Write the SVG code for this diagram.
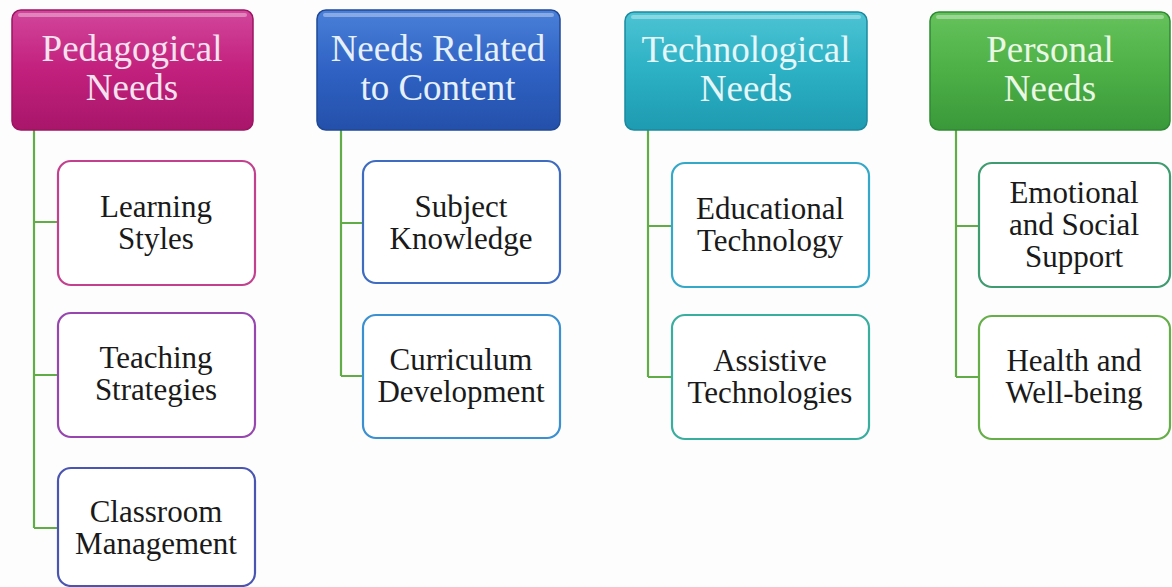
<svg xmlns="http://www.w3.org/2000/svg" width="1172" height="587" viewBox="0 0 1172 587">
  <style>
    .hdr-text { font-family: "Liberation Serif", "Times New Roman", serif; font-size: 37px; text-anchor: middle; }
    .child-text { font-family: "Liberation Serif", "Times New Roman", serif; font-size: 31px; fill: #1a1a1a; text-anchor: middle; }
    .child { fill: #ffffff; stroke-width: 2.2; }
    .hdr { stroke-width: 1.5; }
    .hl { fill: #ffffff; opacity: 0.35; }
    .conn { fill: none; stroke: #62ac48; stroke-width: 2.2; }
  </style>
  <defs>
    <linearGradient id="gPink" x1="0" y1="0" x2="0" y2="1">
      <stop offset="0" stop-color="#d2469c"/>
      <stop offset="0.5" stop-color="#c2207c"/>
      <stop offset="1" stop-color="#a8166a"/>
    </linearGradient>
    <linearGradient id="gBlue" x1="0" y1="0" x2="0" y2="1">
      <stop offset="0" stop-color="#4a80d8"/>
      <stop offset="0.5" stop-color="#2f62c4"/>
      <stop offset="1" stop-color="#2450aa"/>
    </linearGradient>
    <linearGradient id="gTeal" x1="0" y1="0" x2="0" y2="1">
      <stop offset="0" stop-color="#4cc4d4"/>
      <stop offset="0.5" stop-color="#2cb0c4"/>
      <stop offset="1" stop-color="#1e9bb0"/>
    </linearGradient>
    <linearGradient id="gGreen" x1="0" y1="0" x2="0" y2="1">
      <stop offset="0" stop-color="#66c25c"/>
      <stop offset="0.5" stop-color="#4cb046"/>
      <stop offset="1" stop-color="#3a983a"/>
    </linearGradient>
  </defs>
  <rect width="1172" height="587" fill="#fdfdfd"/>

  <g id="connectors">
    <path class="conn" d="M34,130 V528 M34,222 H58 M34,375 H58 M34,528 H58"/>
    <path class="conn" d="M341,130 V376 M341,223 H363 M341,376 H363"/>
    <path class="conn" d="M648,130 V377 M648,226 H672 M648,377 H672"/>
    <path class="conn" d="M956,130 V377 M956,226 H979 M956,377 H979"/>
  </g>

  <g id="pedagogical-needs">
    <rect class="hdr" x="12" y="10" width="241" height="120" rx="9" fill="url(#gPink)" stroke="#9c1462"/>
    <rect class="hl" x="18" y="13" width="229" height="4" rx="2"/>
    <text class="hdr-text" fill="#f6e2ef" x="132" y="61">Pedagogical</text>
    <text class="hdr-text" fill="#f6e2ef" x="132" y="100">Needs</text>
  </g>
  <g id="learning-styles">
    <rect class="child" x="58" y="161" width="197" height="124" rx="13" stroke="#c2408e"/>
    <text class="child-text" x="156" y="217">Learning</text>
    <text class="child-text" x="156" y="249">Styles</text>
  </g>
  <g id="teaching-strategies">
    <rect class="child" x="58" y="313" width="197" height="124" rx="13" stroke="#9646ae"/>
    <text class="child-text" x="156" y="368">Teaching</text>
    <text class="child-text" x="156" y="400">Strategies</text>
  </g>
  <g id="classroom-management">
    <rect class="child" x="58" y="468" width="197" height="118" rx="13" stroke="#4a55b2"/>
    <text class="child-text" x="156" y="522">Classroom</text>
    <text class="child-text" x="156" y="554">Management</text>
  </g>

  <g id="needs-related-to-content">
    <rect class="hdr" x="317" y="10" width="243" height="120" rx="9" fill="url(#gBlue)" stroke="#1f4896"/>
    <rect class="hl" x="323" y="13" width="231" height="4" rx="2"/>
    <text class="hdr-text" fill="#e6f0fb" x="438" y="61">Needs Related</text>
    <text class="hdr-text" fill="#e6f0fb" x="438" y="100">to Content</text>
  </g>
  <g id="subject-knowledge">
    <rect class="child" x="363" y="161" width="197" height="122" rx="13" stroke="#3f6cc0"/>
    <text class="child-text" x="461" y="217">Subject</text>
    <text class="child-text" x="461" y="249">Knowledge</text>
  </g>
  <g id="curriculum-development">
    <rect class="child" x="363" y="315" width="197" height="123" rx="13" stroke="#3a90d0"/>
    <text class="child-text" x="461" y="370">Curriculum</text>
    <text class="child-text" x="461" y="402">Development</text>
  </g>

  <g id="technological-needs">
    <rect class="hdr" x="625" y="12" width="242" height="118" rx="9" fill="url(#gTeal)" stroke="#1a8aa0"/>
    <rect class="hl" x="631" y="15" width="230" height="4" rx="2"/>
    <text class="hdr-text" fill="#e4f6f8" x="746" y="62">Technological</text>
    <text class="hdr-text" fill="#e4f6f8" x="746" y="101">Needs</text>
  </g>
  <g id="educational-technology">
    <rect class="child" x="672" y="163" width="197" height="124" rx="13" stroke="#34a8c8"/>
    <text class="child-text" x="770" y="219">Educational</text>
    <text class="child-text" x="770" y="251">Technology</text>
  </g>
  <g id="assistive-technologies">
    <rect class="child" x="672" y="315" width="197" height="124" rx="13" stroke="#3aae9e"/>
    <text class="child-text" x="770" y="371">Assistive</text>
    <text class="child-text" x="770" y="403">Technologies</text>
  </g>

  <g id="personal-needs">
    <rect class="hdr" x="930" y="12" width="240" height="118" rx="9" fill="url(#gGreen)" stroke="#2e8a32"/>
    <rect class="hl" x="936" y="15" width="228" height="4" rx="2"/>
    <text class="hdr-text" fill="#eaf7e4" x="1050" y="62">Personal</text>
    <text class="hdr-text" fill="#eaf7e4" x="1050" y="101">Needs</text>
  </g>
  <g id="emotional-and-social-support">
    <rect class="child" x="979" y="163" width="191" height="124" rx="13" stroke="#3e9c70"/>
    <text class="child-text" x="1074" y="203">Emotional</text>
    <text class="child-text" x="1074" y="235">and Social</text>
    <text class="child-text" x="1074" y="267">Support</text>
  </g>
  <g id="health-and-well-being">
    <rect class="child" x="979" y="316" width="191" height="123" rx="13" stroke="#66ae48"/>
    <text class="child-text" x="1074" y="371">Health and</text>
    <text class="child-text" x="1074" y="403">Well-being</text>
  </g>
</svg>
